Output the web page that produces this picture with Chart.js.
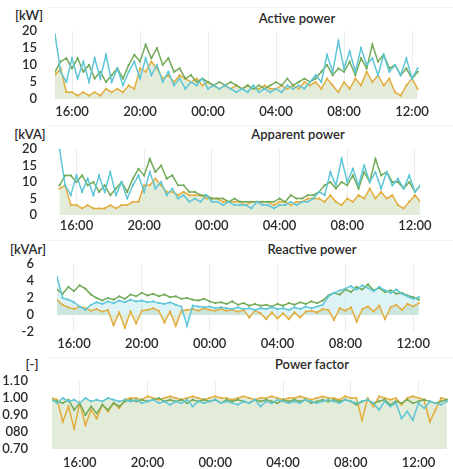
<!DOCTYPE html>
<html>
<head>
<meta charset="utf-8">
<script src="https://cdn.jsdelivr.net/npm/chart.js@4"></script>
<style>
  body { margin: 0; background: #fff; font-family: Lato, sans-serif; color: #2a2a2a; }
  #wrap { position: relative; width: 453px; height: 469px; overflow: hidden; }
  canvas { position: absolute; left: 0; }
  .txt { position: absolute; transform: translate(-50%, -50%); font-size: 13px; font-weight: 600; white-space: nowrap; }
  .sep { position: absolute; left: 48px; right: 0; height: 1px; background: #f1f1f1; }
</style>
</head>
<body>
<div id="wrap">
  <div class="sep" style="top:7px"></div>
  <div class="sep" style="top:125px"></div>
  <div class="sep" style="top:240px"></div>
  <div class="sep" style="top:357px"></div>

  <div class="txt" style="left:29px;top:15px">[kW]</div>
  <div class="txt" style="left:297px;top:18px">Active power</div>
  <div class="txt" style="left:30px;top:134px">[kVA]</div>
  <div class="txt" style="left:298px;top:134px">Apparent power</div>
  <div class="txt" style="left:28px;top:249px">[kVAr]</div>
  <div class="txt" style="left:312px;top:249px">Reactive power</div>
  <div class="txt" style="left:32px;top:364px">[-]</div>
  <div class="txt" style="left:312px;top:364px">Power factor</div>

  <canvas id="active" width="453" height="100" style="top:21px"></canvas>
  <canvas id="apparent" width="453" height="98" style="top:139px"></canvas>
  <canvas id="reactive" width="453" height="100" style="top:254px"></canvas>
  <canvas id="pf" width="453" height="98" style="top:371px"></canvas>
</div>
<script>
// sample times, 20 min apart (after midnight = next day)
const times = [
  '15:00','15:20','15:40','16:00','16:20','16:40','17:00','17:20','17:40','18:00','18:20','18:40',
  '19:00','19:20','19:40','20:00','20:20','20:40','21:00','21:20','21:40','22:00','22:20','22:40',
  '23:00','23:20','23:40','00:00','00:20','00:40','01:00','01:20','01:40','02:00','02:20','02:40',
  '03:00','03:20','03:40','04:00','04:20','04:40','05:00','05:20','05:40','06:00','06:20','06:40',
  '07:00','07:20','07:40','08:00','08:20','08:40','09:00','09:20','09:40','10:00','10:20','10:40',
  '11:00','11:20','11:40','12:00','12:20',
];
const pfTimes = [
  '14:20','14:40',
  '15:00','15:20','15:40','16:00','16:20','16:40','17:00','17:20','17:40','18:00','18:20','18:40',
  '19:00','19:20','19:40','20:00','20:20','20:40','21:00','21:20','21:40','22:00','22:20','22:40',
  '23:00','23:20','23:40','00:00','00:20','00:40','01:00','01:20','01:40','02:00','02:20','02:40',
  '03:00','03:20','03:40','04:00','04:20','04:40','05:00','05:20','05:40','06:00','06:20','06:40',
  '07:00','07:20','07:40','08:00','08:20','08:40','09:00','09:20','09:40','10:00','10:20','10:40',
  '11:00','11:20','11:40','12:00','12:20','12:40','13:00','13:20','13:40',
];

const hourTicks = [16, 20, 24, 28, 32, 36];
const hourTickLabels = ['16:00', '20:00', '00:00', '04:00', '08:00', '12:00'];

const powerTicks = [0, 5, 10, 15, 20];
const reactiveTicks = [-2, 0, 2, 4, 6];
const pfTicks = [0.7, 0.8, 0.9, 1.0, 1.1];
const pfTickLabels = ['0.70', '080', '0.90', '1.00', '1.10'];

// Active power [kW]
const activeCyan = [
  19, 8, 5, 12, 6, 11, 5, 12, 6, 13, 5, 9,
  4, 8, 11, 6, 12, 7, 10, 5, 8, 4, 6, 3,
  5, 4, 6, 3, 4, 3, 4, 3, 2, 3, 2, 4,
  2, 3, 2, 3, 2, 4, 3, 4, 3, 5, 7, 5,
  13, 8, 17, 9, 14, 8, 15, 10, 12, 7, 13, 8,
  10, 7, 12, 6, 9,
];
const activeGreen = [
  8, 11, 12, 9, 12, 8, 10, 6, 8, 5, 7, 9,
  6, 10, 13, 11, 16, 12, 15, 10, 12, 8, 9, 6,
  7, 5, 6, 5, 4, 5, 4, 5, 4, 3, 4, 3,
  4, 3, 4, 5, 4, 6, 4, 5, 6, 5, 6, 8,
  10, 7, 9, 8, 11, 7, 12, 9, 16, 11, 13, 9,
  10, 7, 9, 6, 8,
];
const activeOrange = [
  7, 9, 2, 2, 1, 2, 1, 2, 1, 3, 2, 3,
  2, 4, 3, 9, 8, 11, 9, 6, 7, 5, 7, 6,
  5, 6, 4, 5, 4, 3, 4, 3, 4, 3, 4, 3,
  3, 4, 3, 3, 4, 3, 4, 3, 5, 4, 5, 3,
  6, 4, 2, 5, 3, 6, 4, 8, 5, 7, 4, 6,
  2, 1, 4, 6, 3,
];

// Apparent power [kVA]
const apparentCyan = [
  20, 9, 6, 12, 7, 11, 6, 12, 7, 13, 6, 10,
  5, 9, 12, 7, 13, 8, 10, 6, 8, 5, 6, 4,
  5, 4, 6, 4, 4, 3, 4, 3, 3, 3, 2, 4,
  3, 3, 2, 3, 3, 4, 3, 4, 4, 5, 7, 6,
  13, 9, 17, 10, 14, 9, 15, 10, 13, 8, 13, 9,
  11, 8, 12, 7, 9,
];
const apparentGreen = [
  9, 12, 12, 10, 12, 9, 10, 7, 9, 6, 8, 10,
  7, 11, 14, 12, 17, 13, 15, 11, 12, 9, 9, 7,
  7, 6, 6, 5, 5, 5, 4, 5, 4, 4, 4, 4,
  4, 4, 4, 5, 4, 6, 5, 5, 6, 6, 7, 9,
  10, 8, 10, 9, 12, 8, 13, 10, 17, 12, 13, 10,
  10, 8, 10, 7, 9,
];
const apparentOrange = [
  8, 9, 3, 3, 2, 3, 2, 2, 2, 3, 2, 3,
  3, 4, 4, 9, 9, 11, 9, 7, 7, 6, 7, 6,
  6, 6, 5, 5, 5, 4, 4, 4, 4, 3, 4, 4,
  4, 4, 3, 4, 4, 3, 4, 4, 5, 5, 5, 4,
  6, 4, 3, 5, 4, 6, 5, 8, 5, 7, 5, 6,
  3, 2, 4, 6, 4,
];

// Reactive power [kVAr]
const reactiveCyan = [
  4.5, 2, 1.8, 1.5, 1, 0.6, 1.2, 1.5, 1.3, 1.6, 1.4, 1.7,
  1.5, 1.8, 1.6, 1.7, 1.5, 1.6, 1.4, 1.3, 1.5, 1.2, 1, -1.3,
  1.1, 1, 0.9, 1, 0.8, 0.9, 0.8, 0.7, 0.9, 0.7, 0.8, 0.6,
  0.8, 0.7, 0.9, 0.7, 0.8, 0.6, 0.9, 0.7, 1, 0.8, 1, 1.2,
  2.2, 2.6, 2.9, 3.1, 3.4, 3, 3.5, 3.2, 2.8, 3.3, 2.9, 2.6,
  3, 2.5, 2.2, 1.9, 2.1,
];
const reactiveGreen = [
  3, 2.5, 3.3, 2.8, 3.5, 3.1, 2.4, 2, 1.7, 2, 1.8, 2.2,
  1.9, 2.4, 2.2, 2.6, 2.3, 2.5, 2.2, 2.4, 2.1, 2.2, 1.9, 2,
  1.8, 1.7, 1.9, 1.6, 1.4, 1.5, 1.3, 1.6, 1.2, 1.4, 1.1, 1.3,
  1.1, 1.2, 1, 1.3, 1.1, 1.4, 1.2, 1.5, 1.3, 1.6, 1.4, 1.7,
  2.3, 2.6, 2.4, 3, 2.7, 3.3, 3, 3.6, 2.9, 3.2, 2.7, 2.9,
  2.5, 2.6, 2.3, 2.1, 1.8,
];
const reactiveOrange = [
  1.8, 1.2, 0.9, 0.7, 1, 0.8, 0.5, 0.7, 0.4, 0.6, -1.2, 0.3,
  -1.5, 0.4, -1, 0.5, 0.6, 0.8, 0.5, -0.9, 0.4, -1.3, 0.5, 0.6,
  0.7, 0.5, 0.8, 0.6, 0.5, 0.7, 0.5, 0.6, 0.4, 0.6, -0.3, 0.5,
  0.2, -0.5, 0.3, -0.4, 0.2, -0.5, 0.3, -0.3, 0.4, 0.5, 0.3, 0.7,
  0.6, -0.6, 0.8, 0.5, 0.9, -0.8, 0.7, 1, 0.4, 1.1, -0.5, 0.9,
  1.2, 0.6, 1.3, 1, 1.4,
];

// Power factor [-]
const pfCyan = [
  0.99, 0.97,
  1.0, 0.98, 0.99, 0.97, 1.0, 0.98, 0.99, 0.98, 1.0, 0.99, 0.98, 0.99,
  0.98, 0.99, 0.97, 0.98, 0.99, 0.97, 0.98, 0.96, 0.98, 0.97, 0.99, 0.95,
  0.98, 0.97, 0.98, 0.99, 0.97, 0.98, 0.97, 0.96, 0.98, 0.97, 0.99, 0.95,
  0.98, 0.97, 0.99, 0.98, 0.97, 0.98, 0.97, 0.99, 0.98, 0.97, 0.98, 0.99,
  0.98, 0.97, 0.99, 0.98, 0.97, 0.98, 0.99, 0.97, 0.93, 0.98, 0.95, 0.97,
  0.88, 0.92, 0.87, 0.97, 0.94, 0.98, 0.97, 0.96, 0.98,
];
const pfGreen = [
  0.99, 0.98,
  0.97, 0.99, 0.93, 0.97, 0.9, 0.95, 0.91, 0.96, 0.93, 0.97, 0.95, 0.98,
  0.99, 0.98, 0.99, 0.98, 0.99, 1.0, 0.98, 0.99, 0.98, 0.99, 0.97, 0.99,
  0.98, 0.99, 0.98, 0.99, 0.97, 0.99, 0.98, 0.99, 0.98, 0.97, 0.99, 0.98,
  0.99, 0.98, 0.97, 0.99, 0.98, 0.99, 0.98, 0.99, 0.97, 0.98, 0.99, 0.98,
  0.99, 0.98, 0.99, 0.98, 0.96, 0.98, 0.99, 0.97, 0.98, 0.99, 0.96, 0.98,
  0.97, 0.99, 0.97, 0.98, 0.99, 0.98, 0.97, 0.98, 0.99,
];
const pfOrange = [
  1.0, 0.99,
  0.86, 0.95, 0.82, 0.97, 0.84, 0.93, 0.88, 0.96, 0.92, 0.97, 0.94, 0.99,
  1.0, 1.0, 0.99, 1.01, 1.0, 0.99, 1.0, 1.01, 1.0, 0.99, 1.0, 1.01,
  1.0, 0.99, 1.0, 1.01, 1.0, 1.0, 0.99, 1.0, 1.01, 1.0, 0.99, 1.0,
  1.0, 1.01, 1.0, 0.99, 1.0, 1.0, 1.01, 1.0, 0.99, 1.0, 1.01, 1.0,
  1.0, 0.99, 1.01, 1.0, 1.0, 0.87, 1.0, 0.95, 1.01, 1.0, 0.99, 1.0,
  0.96, 1.0, 1.01, 1.0, 0.99, 0.86, 0.93, 1.0, 0.99,
];

const cyan = '#5ec6d6';
const green = '#72ab58';
const orange = '#e3ad3e';
const areaFill = '#e3ebd9';
const cyanArea = 'rgba(160,222,228,0.35)';
const tickFont = { family: 'Lato', size: 13, weight: '600' };
const textColor = '#2a2a2a';

// '01:20' -> 25.33 (hours past midnight of the first day)
function toHours(s) {
  const [h, m] = s.split(':').map(Number);
  return (h < 14 ? h + 24 : h) + m / 60;
}

function pts(ts, vals) {
  return ts.map((t, i) => ({ x: toHours(t), y: vals[i] }));
}

function makePanel(id, opts) {
  const ts = opts.times;
  const datasets = [
    { data: pts(ts, opts.cyan), borderColor: cyan, fill: opts.cyanFill ? opts.fillTo : false, backgroundColor: opts.cyanFill },
    { data: pts(ts, opts.green), borderColor: green, fill: false },
    { data: pts(ts, opts.orange), borderColor: orange, fill: opts.fillTo, backgroundColor: areaFill },
  ];
  datasets.forEach(d => {
    d.borderWidth = 1.5;
    d.pointRadius = 1.1;
    d.pointBorderWidth = 0;
    d.pointBackgroundColor = d.borderColor;
    d.tension = 0;
  });

  // label offsets come from tickLength, not ticks.padding, so the axes keep their full length
  return new Chart(document.getElementById(id), {
    type: 'line',
    data: { datasets },
    options: {
      responsive: false,
      animation: false,
      devicePixelRatio: 1,
      layout: { padding: { top: 10, bottom: 0, left: 0, right: opts.padRight } },
      plugins: {
        legend: { display: false },
        tooltip: { enabled: false },
        filler: { drawTime: 'beforeDatasetsDraw' },
      },
      scales: {
        x: {
          type: 'linear',
          min: opts.xMin,
          max: opts.xMax,
          afterBuildTicks: s => { s.ticks = hourTicks.map(v => ({ value: v })); },
          afterFit: s => { s.height = opts.xHeight; },
          ticks: {
            autoSkip: false,
            maxRotation: 0,
            padding: 0,
            color: textColor,
            font: tickFont,
            callback: (v, i) => hourTickLabels[i],
          },
          grid: { color: '#ececec', drawTicks: true, tickLength: opts.xPad, tickColor: 'rgba(0,0,0,0)' },
          border: { display: false },
        },
        y: {
          min: opts.yTicks[0],
          max: opts.yTicks[opts.yTicks.length - 1],
          afterBuildTicks: s => { s.ticks = opts.yTicks.map(v => ({ value: v })); },
          afterFit: s => { s.width = opts.yWidth; },
          ticks: {
            autoSkip: false,
            padding: 0,
            color: textColor,
            font: tickFont,
            callback: (v, i) => opts.yLabels[i],
          },
          grid: { display: false, drawTicks: true, tickLength: opts.yPad },
          border: { display: false },
        },
      },
    },
  });
}

makePanel('active', {
  times, cyan: activeCyan, green: activeGreen, orange: activeOrange,
  fillTo: 'origin', xMin: 15, xMax: 36.47, xHeight: 22, xPad: 5, padRight: 33,
  yTicks: powerTicks, yLabels: powerTicks.map(String), yWidth: 55, yPad: 18,
});
makePanel('apparent', {
  times, cyan: apparentCyan, green: apparentGreen, orange: apparentOrange,
  fillTo: 'origin', xMin: 14.85, xMax: 36.3, xHeight: 22, xPad: 3, padRight: 33,
  yTicks: powerTicks, yLabels: powerTicks.map(String), yWidth: 57, yPad: 20,
});
makePanel('reactive', {
  times, cyan: reactiveCyan, green: reactiveGreen, orange: reactiveOrange, cyanFill: cyanArea,
  fillTo: 'origin', xMin: 15, xMax: 36.4, xHeight: 22, xPad: 4, padRight: 33,
  yTicks: reactiveTicks, yLabels: reactiveTicks.map(String), yWidth: 57, yPad: 23,
});
makePanel('pf', {
  times: pfTimes, cyan: pfCyan, green: pfGreen, orange: pfOrange, cyanFill: areaFill,
  fillTo: 'start', xMin: 14.36, xMax: 37.8, xHeight: 20, xPad: 6, padRight: 0,
  yTicks: pfTicks, yLabels: pfTickLabels, yWidth: 52, yPad: 24,
});
</script>
</body>
</html>
